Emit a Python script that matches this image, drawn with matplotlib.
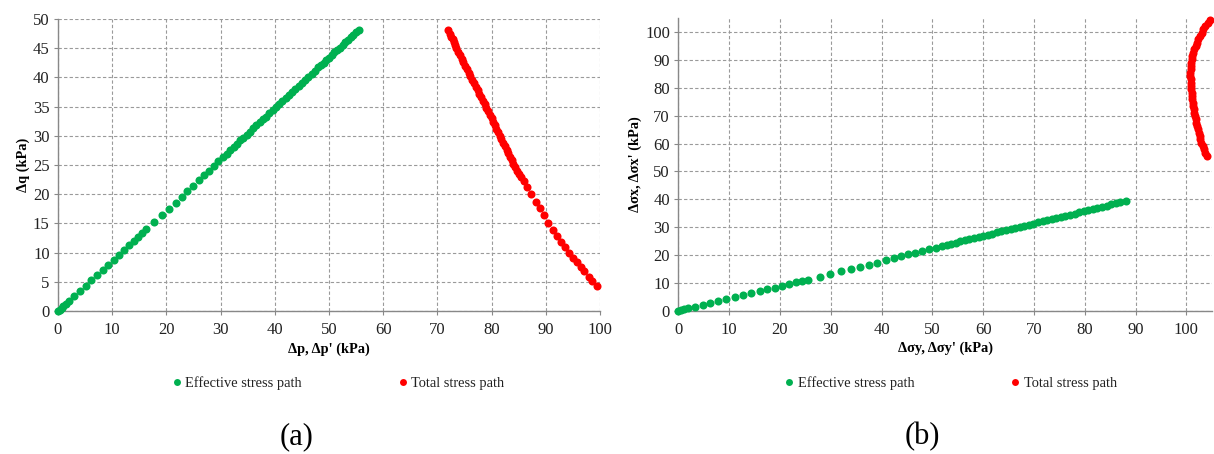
import matplotlib
matplotlib.use("Agg")
import matplotlib.pyplot as plt
from matplotlib.lines import Line2D

plt.rcParams['font.family'] = ['Liberation Serif', 'DejaVu Serif']

# ---------------- (a) p-q stress paths ----------------
eff_p = [0, 0.3, 0.65, 1.0, 1.4, 2.0, 3.0, 4.05, 5.1, 6.15, 7.2, 8.25, 9.3, 10.3, 11.2,
         12.2, 13.1, 13.95, 14.8, 15.55, 16.25, 17.7, 19.1, 20.4, 21.7, 22.8, 23.85, 24.9,
         26.0, 26.9, 27.8, 28.7, 29.55, 30.4, 31.1, 31.8,
         32.4, 33.0, 33.6, 34.2, 34.8, 35.4, 36.0, 36.6, 37.2, 37.8, 38.4, 39.0, 39.6, 40.2,
         40.8, 41.4, 42.0, 42.6, 43.2, 43.8, 44.4, 45.0, 45.6, 46.2, 46.8, 47.4, 48.0, 48.5,
         49.0, 49.5, 50.0, 50.5, 51.0, 51.5, 52.0, 52.5, 53.0, 53.5, 54.0, 54.5, 55.0, 55.5]
eff_q = [0, 0.25, 0.55, 0.85, 1.2, 1.7, 2.55, 3.45, 4.35, 5.25, 6.15, 7.05, 7.95, 8.8, 9.6,
         10.45, 11.25, 12.0, 12.75, 13.4, 14.0, 15.25, 16.45, 17.5, 18.5, 19.45, 20.5, 21.45,
         22.4, 23.25, 24.05, 24.85, 25.6, 26.3, 26.9, 27.5,
         28.1, 28.6, 29.2, 29.7, 30.2, 30.7, 31.3, 31.8, 32.3, 32.8, 33.3, 33.9, 34.4, 34.9,
         35.4, 35.9, 36.5, 37.0, 37.5, 38.0, 38.5, 39.1, 39.6, 40.1, 40.6, 41.1, 41.7, 42.1,
         42.5, 43.0, 43.4, 43.8, 44.3, 44.7, 45.1, 45.6, 46.0, 46.4, 46.9, 47.3, 47.7, 48.2]

tot_p = [71.9, 72.3, 72.55, 72.8, 73.0, 73.25, 73.5, 73.85, 74.15, 74.5, 74.8, 75.1, 75.45,
         75.75, 76.1, 76.45, 76.8, 77.1, 77.45, 77.75, 78.05, 78.4, 78.7, 79.0, 79.35, 79.65,
         80.0, 80.3, 80.6, 80.9, 81.2, 81.5, 81.8, 82.1, 82.45, 82.75, 83.05, 83.35, 83.7,
         84.0, 84.35, 84.7, 85.05, 85.4,
         86.0, 86.6, 87.3, 88.2, 88.9, 89.6, 90.4, 91.4, 92.1, 92.8, 93.5, 94.3, 95.1, 95.7,
         96.5, 97.1, 97.9, 98.6, 99.5]
tot_q = [48.2, 47.5, 47.0, 46.5, 46.0, 45.5, 45.0, 44.4, 43.8, 43.2, 42.6, 42.0, 41.4,
         40.8, 40.2, 39.6, 39.0, 38.4, 37.8, 37.2, 36.6, 36.0, 35.4, 34.8, 34.2, 33.6,
         33.0, 32.4, 31.8, 31.2, 30.6, 30.0, 29.4, 28.8, 28.2, 27.6, 27.0, 26.4, 25.8,
         25.2, 24.6, 24.0, 23.4, 22.9,
         22.3, 21.3, 20.0, 18.6, 17.6, 16.5, 15.1, 13.8, 12.8, 11.9, 11.0, 10.0, 9.1, 8.4,
         7.5, 6.85, 5.9, 5.1, 4.3]

# ---------------- (b) sigma_y - sigma_x stress paths ----------------
eff_sy = [0, 0.53, 1.18, 1.97, 3.29, 4.8, 6.3, 7.87, 9.45, 11.1, 12.74, 14.37, 16.0, 17.5,
          19.0, 20.35, 21.8, 23.1, 24.4, 25.6, 27.8, 29.9, 32.0, 33.9, 35.8, 37.5, 39.2,
          40.8, 42.5, 43.9, 45.3, 46.6, 48.0, 49.4, 50.7, 51.85,
          52.8, 53.7, 54.6, 55.5, 56.4, 57.3, 58.2, 59.1, 60.0, 60.9, 61.8, 62.7, 63.6, 64.5,
          65.4, 66.3, 67.2, 68.1, 69.0, 69.9, 70.8, 71.7, 72.6, 73.5, 74.4, 75.3, 76.2, 77.1,
          78.0, 78.9, 79.8, 80.7, 81.6, 82.5, 83.4, 84.3, 85.2, 86.1, 87.0, 88.1]
eff_sx = [0, 0.25, 0.6, 0.97, 1.44, 2.05, 2.65, 3.37, 4.1, 4.8, 5.5, 6.25, 7.1, 7.7,
          8.3, 9.0, 9.7, 10.3, 10.8, 11.15, 12.2, 13.2, 14.2, 15.0, 15.8, 16.55, 17.3,
          18.1, 18.85, 19.55, 20.3, 20.75, 21.35, 22.1, 22.55, 23.15,
          23.65, 24.06, 24.46, 24.86, 25.27, 25.67, 26.07, 26.48, 26.88, 27.28, 27.69, 28.09,
          28.49, 28.9, 29.3, 29.7, 30.1, 30.5, 30.9, 31.3, 31.7, 32.1, 32.5, 32.9, 33.3, 33.7,
          34.1, 34.5, 34.9, 35.3, 35.7, 36.1, 36.5, 36.9, 37.35, 37.75, 38.15, 38.55, 38.95, 39.3]

tot_sy = [104.0, 103.75, 103.47, 103.2, 102.96, 102.79, 102.62, 102.45, 102.29, 102.15,
          102.0, 101.86, 101.71, 101.6, 101.49, 101.39, 101.28, 101.2, 101.12, 101.05,
          100.98, 100.93, 100.89, 100.86, 100.82, 100.82, 100.87, 100.92, 100.96, 101.04,
          101.2, 101.36, 101.58, 101.82, 102.06, 102.34, 102.67, 103.0, 103.3, 103.75,
          104.2, 104.7]
tot_sx = [55.5, 56.7, 57.9, 59.1, 60.3, 61.5, 62.7, 63.9, 65.1, 66.3, 67.5, 68.7, 69.9,
          71.1, 72.3, 73.5, 74.7, 75.9, 77.1, 78.3, 79.5, 80.7, 81.9, 83.1, 84.3, 85.5,
          86.7, 87.9, 89.1, 90.3, 91.5, 92.7, 93.9, 95.1, 96.3, 97.5, 98.7, 99.9, 101.0,
          102.1, 103.2, 104.3]

a_xticks = list(range(0, 101, 10))
a_yticks = list(range(0, 51, 5))
b_xticks = list(range(0, 101, 10))
b_yticks = list(range(0, 101, 10))

GREEN = '#00B050'
RED = '#FF0000'
GRID = '#9a9a9a'
SPINE = '#888888'

fig = plt.figure(figsize=(12.14, 4.54), dpi=100)
W, H = 1214, 454
def rect(x0, x1, ytop, ybot):
    return [x0 / W, 1 - ybot / H, (x1 - x0) / W, (ybot - ytop) / H]

axa = fig.add_axes(rect(58, 600, 19, 311))
axb = fig.add_axes(rect(678.3, 1211.7, 18.3, 310.7))

def style(ax, xlim, ylim, xticks, yticks):
    ax.set_xlim(*xlim)
    ax.set_ylim(*ylim)
    ax.set_xticks(xticks)
    ax.set_yticks(yticks)
    for s in ['top', 'right']:
        ax.spines[s].set_visible(False)
    for s in ['left', 'bottom']:
        ax.spines[s].set_color(SPINE)
        ax.spines[s].set_linewidth(1.0)
    ax.tick_params(axis='both', direction='out', length=3, width=0.8, color=SPINE,
                   labelsize=12, labelcolor='#222222')
    ax.tick_params(axis='x', pad=5)
    ax.tick_params(axis='y', pad=3)
    ax.grid(True, color=GRID, linestyle=(0, (3, 2)), linewidth=0.8)
    ax.set_axisbelow(True)

style(axa, (0, 100), (0, 50), a_xticks, a_yticks)
style(axb, (0, 105), (0, 105), b_xticks, b_yticks)

ms = 5.8
axa.plot(eff_p, eff_q, 'o', color=GREEN, ms=ms, mew=0, clip_on=False, zorder=3)
axa.plot(tot_p, tot_q, 'o', color=RED, ms=ms, mew=0, clip_on=False, zorder=3)
axb.plot(eff_sy, eff_sx, 'o', color=GREEN, ms=ms, mew=0, clip_on=False, zorder=3)
axb.plot(tot_sy, tot_sx, 'o', color=RED, ms=ms, mew=0, clip_on=False, zorder=3)

lab_fs = 10.4
axa.set_xlabel("Δp, Δp' (kPa)", fontsize=lab_fs, fontweight='bold', labelpad=3)
axa.set_ylabel("Δq (kPa)", fontsize=lab_fs, fontweight='bold', labelpad=2)
axb.set_xlabel("Δσy, Δσy' (kPa)", fontsize=lab_fs, fontweight='bold', labelpad=3)
axb.set_ylabel("Δσx, Δσx' (kPa)", fontsize=lab_fs, fontweight='bold', labelpad=2)

def add_legend(xpix):
    h = [Line2D([], [], marker='o', ls='', color=GREEN, ms=5, mew=0),
         Line2D([], [], marker='o', ls='', color=RED, ms=5, mew=0)]
    leg = fig.legend(h, ['Effective stress path', 'Total stress path'], ncol=2,
                     loc='center left', bbox_to_anchor=(xpix / W, 1 - 383 / H),
                     frameon=False, fontsize=10.4, handlelength=0.6, handletextpad=0.28,
                     columnspacing=6.7, borderpad=0, borderaxespad=0)
    for t in leg.get_texts():
        t.set_color('#222222')

add_legend(172.4)
add_legend(785.0)

fig.text(297 / W, 1 - 437 / H, '(a)', fontsize=22, ha='center', va='center')
fig.text(922 / W, 1 - 437 / H, '(b)', fontsize=22, ha='center', va='center')

fig.savefig('out.png', dpi=100)
